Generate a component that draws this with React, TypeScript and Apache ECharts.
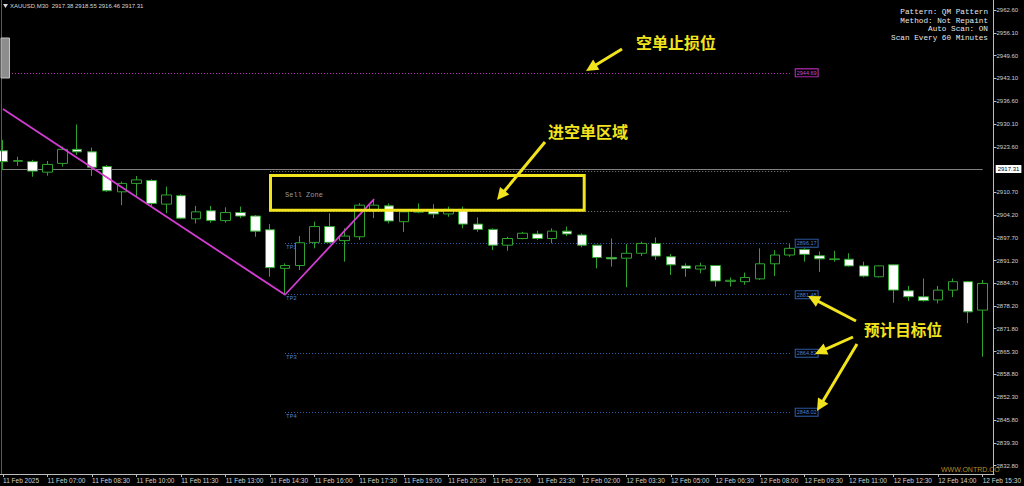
import React, { useEffect, useRef } from "react";
import * as echarts from "echarts";

// ---------- data ----------
const symbolHeader = "XAUUSD,M30  2917.38 2918.55 2916.46 2917.31";
const firstAxisLabel = "11 Feb 2025";

const times: string[] = [
  "11 Feb 05:30", "11 Feb 06:00", "11 Feb 06:30", "11 Feb 07:00", "11 Feb 07:30", "11 Feb 08:00",
  "11 Feb 08:30", "11 Feb 09:00", "11 Feb 09:30", "11 Feb 10:00", "11 Feb 10:30", "11 Feb 11:00",
  "11 Feb 11:30", "11 Feb 12:00", "11 Feb 12:30", "11 Feb 13:00", "11 Feb 13:30", "11 Feb 14:00",
  "11 Feb 14:30", "11 Feb 15:00", "11 Feb 15:30", "11 Feb 16:00", "11 Feb 16:30", "11 Feb 17:00",
  "11 Feb 17:30", "11 Feb 18:00", "11 Feb 18:30", "11 Feb 19:00", "11 Feb 19:30", "11 Feb 20:00",
  "11 Feb 20:30", "11 Feb 21:00", "11 Feb 21:30", "11 Feb 22:00", "11 Feb 22:30", "11 Feb 23:00",
  "11 Feb 23:30",
  "12 Feb 01:00", "12 Feb 01:30", "12 Feb 02:00", "12 Feb 02:30", "12 Feb 03:00", "12 Feb 03:30",
  "12 Feb 04:00", "12 Feb 04:30", "12 Feb 05:00", "12 Feb 05:30", "12 Feb 06:00", "12 Feb 06:30",
  "12 Feb 07:00", "12 Feb 07:30", "12 Feb 08:00", "12 Feb 08:30", "12 Feb 09:00", "12 Feb 09:30",
  "12 Feb 10:00", "12 Feb 10:30", "12 Feb 11:00", "12 Feb 11:30", "12 Feb 12:00", "12 Feb 12:30",
  "12 Feb 13:00", "12 Feb 13:30", "12 Feb 14:00", "12 Feb 14:30", "12 Feb 15:00", "12 Feb 15:30",
];

const opens: number[] = [
  2922.5, 2919.5, 2919.4, 2916.4, 2918.9, 2922.9, 2922.2, 2918.0, 2910.8, 2913.2,
  2914.0, 2907.3, 2909.7, 2903.1, 2905.4, 2902.6, 2904.9, 2903.9, 2900.0, 2889.0,
  2889.8, 2896.4, 2900.9, 2896.9, 2898.0, 2905.4, 2906.8, 2902.3, 2905.0, 2905.4,
  2904.5, 2905.8, 2901.6, 2900.1, 2895.6, 2897.5, 2898.8, 2897.5, 2899.6, 2898.5,
  2895.6, 2892.1, 2891.9, 2893.3, 2896.1, 2892.3, 2889.7, 2888.8, 2889.8, 2885.3,
  2885.2, 2886.0, 2890.3, 2892.8, 2894.4, 2892.6, 2891.5, 2891.6, 2889.7, 2886.6,
  2890.0, 2882.6, 2880.9, 2880.0, 2882.8, 2885.2, 2877.1,
];
const closes: number[] = [
  2919.4, 2919.7, 2916.7, 2918.6, 2922.9, 2922.2, 2917.8, 2911.1, 2913.2, 2914.2,
  2907.5, 2909.9, 2903.3, 2905.1, 2902.6, 2904.9, 2903.9, 2899.6, 2889.2, 2889.8,
  2896.3, 2900.9, 2896.4, 2898.2, 2907.0, 2907.0, 2902.5, 2905.1, 2905.2, 2904.5,
  2905.8, 2901.6, 2900.1, 2895.6, 2897.5, 2899.0, 2897.5, 2899.6, 2898.8, 2895.6,
  2892.1, 2891.7, 2893.3, 2896.1, 2892.5, 2890.0, 2889.0, 2889.7, 2885.4, 2885.6,
  2886.4, 2890.3, 2892.8, 2894.7, 2893.0, 2891.7, 2891.7, 2889.7, 2886.8, 2889.7,
  2882.8, 2880.9, 2879.8, 2882.8, 2885.2, 2876.6, 2884.7,
];
const lows: number[] = [
  2917.0, 2918.2, 2915.1, 2915.4, 2918.0, 2921.3, 2915.3, 2910.8, 2907.0, 2909.4,
  2906.8, 2904.7, 2903.0, 2901.8, 2902.0, 2902.0, 2903.3, 2898.0, 2886.6, 2881.48,
  2888.5, 2894.7, 2896.1, 2890.9, 2897.1, 2903.3, 2901.8, 2899.4, 2904.7, 2903.3,
  2903.7, 2900.4, 2899.4, 2894.2, 2894.0, 2897.3, 2897.1, 2896.1, 2898.2, 2895.0,
  2889.0, 2889.5, 2883.6, 2892.5, 2891.4, 2887.1, 2886.6, 2887.6, 2883.8, 2883.8,
  2884.3, 2885.7, 2886.8, 2892.3, 2890.9, 2888.0, 2890.9, 2889.5, 2886.4, 2886.4,
  2879.2, 2879.7, 2879.5, 2879.0, 2880.8, 2873.4, 2863.8,
];
const highs: number[] = [
  2925.6, 2920.8, 2919.9, 2919.6, 2923.7, 2930.0, 2923.4, 2918.4, 2913.7, 2915.3,
  2914.4, 2912.3, 2910.1, 2906.8, 2906.8, 2906.4, 2906.6, 2904.2, 2901.6, 2890.4,
  2898.2, 2902.3, 2904.7, 2900.4, 2907.6, 2908.5, 2907.5, 2905.8, 2907.5, 2907.3,
  2906.6, 2906.6, 2903.5, 2900.4, 2898.0, 2899.4, 2899.7, 2900.4, 2900.9, 2899.0,
  2895.6, 2897.5, 2895.9, 2896.6, 2897.8, 2893.1, 2890.4, 2890.6, 2889.9, 2886.4,
  2887.8, 2894.7, 2894.2, 2895.9, 2894.7, 2893.8, 2894.0, 2893.3, 2890.9, 2889.8,
  2890.0, 2884.0, 2886.1, 2884.0, 2886.1, 2885.4, 2885.7,
];

// zigzag (QM pattern leg): [bar index, price]
const zigzagIdx: number[] = [0, 19, 25];
const zigzagPrice: number[] = [2934.4, 2881.48, 2908.7];

// levels
const bidPrice = 2917.31;
const stopLoss = 2944.69;
const tpNames: string[] = ["TP1", "TP2", "TP3", "TP4"];
const tpValues: number[] = [2896.17, 2881.48, 2864.82, 2848.02];
const sellZone: number[] = [2916.75, 2905.2];
const levelStart = 19;
const zoneStart = 18;
const levelEnd = 53;

// price axis tick labels
const yTicks: number[] = [
  2962.6, 2956.1, 2949.6, 2943.1, 2936.6, 2930.1, 2923.6, 2910.7, 2904.2, 2897.7,
  2891.2, 2884.7, 2878.2, 2871.8, 2865.3, 2858.8, 2852.3, 2845.8, 2839.3, 2832.8,
];
const yMin = 2830.41;
const yMax = 2965.45;

const infoLines: string[] = ["Pattern: QM Pattern", "Method: Not Repaint", "Auto Scan: ON", "Scan Every 60 Minutes"];
const noteStop = "空单止损位";
const noteZone = "进空单区域";
const noteTarget = "预计目标位";
const watermark = "WWW.ONTRD.CO";

// ---------- styles ----------
const GREEN = "#2ea32e";
const YELLOW = "#f2e41c";
const TPBLUE = "#2f5ea8";
const TPTEXT = "#4a7fd0";
const MAGENTA = "#c030c0";
const AXIS = "#bdbdbd";

function arrow(x1: number, y1: number, x2: number, y2: number) {
  const dx = x2 - x1, dy = y2 - y1;
  const len = Math.hypot(dx, dy);
  const ux = dx / len, uy = dy / len;
  const hl = 12, hw = 6;
  const bx = x2 - ux * hl, by = y2 - uy * hl;
  return [
    { type: "line", shape: { x1, y1, x2: bx + ux * 2, y2: by + uy * 2 }, style: { stroke: YELLOW, lineWidth: 3 }, z: 50 },
    {
      type: "polygon",
      shape: { points: [[x2, y2], [bx - uy * hw, by + ux * hw], [bx + uy * hw, by - ux * hw]] },
      style: { fill: YELLOW },
      z: 50,
    },
  ];
}

function txt(text: string, x: number, y: number, o: any) {
  return {
    type: "text",
    z: 50,
    style: { text, x, y, verticalAlign: "middle", ...o },
  };
}

export default function App() {
  const ref = useRef<HTMLDivElement>(null);

  useEffect(() => {
    if (!ref.current) return;
    const chart = echarts.init(ref.current, undefined, { renderer: "svg" });

    const candleData = opens.map((o, i) => [o, closes[i], lows[i], highs[i]]);
    const zigzagData = zigzagIdx.map((idx, k) => [times[idx], zigzagPrice[k]]);

    const dotted = [1, 2];
    const levelLines: any[] = [];

    // stop loss
    levelLines.push([
      {
        coord: [times[0], stopLoss],
        lineStyle: { color: MAGENTA, type: dotted, width: 1 },
        label: {
          show: true, position: "end", distance: 6, formatter: stopLoss.toFixed(2),
          color: "#cc4acc", fontSize: 5.5, fontFamily: "Liberation Sans",
          borderColor: MAGENTA, borderWidth: 1, padding: [0.5, 1], backgroundColor: "#000",
        },
      },
      { coord: [times[levelEnd], stopLoss] },
    ]);
    // TP levels: tag at end + name at start
    tpValues.forEach((v, k) => {
      levelLines.push([
        {
          coord: [times[levelStart], v],
          lineStyle: { color: TPBLUE, type: dotted, width: 1 },
          label: {
            show: true, position: "end", distance: 6, formatter: v.toFixed(2),
            color: TPTEXT, fontSize: 5.5, fontFamily: "Liberation Sans",
            borderColor: TPBLUE, borderWidth: 1, padding: [0.5, 1], backgroundColor: "#000",
          },
        },
        { coord: [times[levelEnd], v] },
      ]);
      levelLines.push([
        {
          coord: [times[levelStart], v],
          lineStyle: { color: TPBLUE, type: dotted, width: 1 },
          label: {
            show: true, position: "insideStartBottom", distance: 1, formatter: tpNames[k],
            color: TPTEXT, fontSize: 6, fontFamily: "Liberation Mono", align: "left",
          },
        },
        { coord: [times[levelEnd], v] },
      ]);
    });
    // sell zone borders
    sellZone.forEach((v) => {
      levelLines.push([
        { coord: [times[zoneStart], v], lineStyle: { color: "#858585", type: dotted, width: 1 }, label: { show: false } },
        { coord: [times[levelEnd], v] },
      ]);
    });
    // bid line
    levelLines.push({
      yAxis: bidPrice,
      lineStyle: { color: "#808080", type: "solid", width: 1 },
      label: {
        show: true, position: "end", distance: 13, formatter: bidPrice.toFixed(2),
        color: "#000", backgroundColor: "#ffffff", fontSize: 6, fontFamily: "Liberation Sans", padding: [1, 2],
      },
    });

    const graphic: any[] = [
      // bottom axis line across full plot width
      { type: "line", shape: { x1: 0, y1: 474.5, x2: 994.5, y2: 474.5 }, style: { stroke: AXIS, lineWidth: 1 }, z: 40 },
      // left frame & scroll handle
      { type: "line", shape: { x1: 1.5, y1: 0, x2: 1.5, y2: 474 }, style: { stroke: "#5a5a5a", lineWidth: 1 }, z: 40 },
      { type: "rect", shape: { x: 1, y: 38, width: 8.5, height: 40 }, style: { fill: "#8d8d8d", stroke: "#c4c4c4", lineWidth: 1 }, z: 41 },
      // header
      { type: "polygon", shape: { points: [[3, 4], [8, 4], [5.5, 8]] }, style: { fill: "#d8d8d8" }, z: 50 },
      txt(symbolHeader, 10, 6, { fill: "#d6d6d6", fontSize: 6, fontFamily: "Liberation Sans", align: "left" }),
      // info block
      ...infoLines.map((s, k) =>
        txt(s, 988, 11.7 + k * 8.85, { fill: "#e6e6e6", fontSize: 7.7, fontFamily: "Liberation Mono", align: "right" })
      ),
      // yellow sell box
      { type: "rect", shape: { x: 270.5, y: 175.5, width: 313.7, height: 34.7 }, style: { fill: "none", stroke: YELLOW, lineWidth: 3 }, z: 45 },
      // notes
      txt(noteStop, 676, 42, { fill: YELLOW, fontSize: 16, fontWeight: "bold", fontFamily: "Noto Sans CJK SC", align: "center" }),
      txt(noteZone, 588, 131, { fill: YELLOW, fontSize: 16, fontWeight: "bold", fontFamily: "Noto Sans CJK SC", align: "center" }),
      txt(noteTarget, 903, 329, { fill: YELLOW, fontSize: 15.6, fontWeight: "bold", fontFamily: "Noto Sans CJK SC", align: "center" }),
      ...arrow(622, 49, 586, 71),
      ...arrow(545, 142, 497, 200),
      ...arrow(856, 321, 808, 296),
      ...arrow(853, 337, 815, 354),
      ...arrow(857, 344, 817, 411),
      // watermark
      txt(watermark, 941, 469, { fill: "#b48c2c", fontSize: 7, fontFamily: "Liberation Sans", align: "left" }),
    ];

    const option: any = {
      animation: false,
      backgroundColor: "#000000",
      grid: { left: 1.7, right: 40.8, top: 0, bottom: 12, containLabel: false },
      xAxis: {
        type: "category",
        data: times,
        boundaryGap: false,
        axisLine: { show: false },
        axisTick: { show: true, interval: 2, length: 3, lineStyle: { color: AXIS } },
        axisLabel: {
          interval: 2, align: "left", fontSize: 6.5, color: "#d0d0d0", margin: 3,
          fontFamily: "Liberation Sans",
          formatter: (v: string, i: number) => (i === 0 ? firstAxisLabel : v),
        },
        splitLine: { show: false },
      },
      yAxis: {
        type: "value",
        position: "right",
        offset: 10.8,
        min: yMin,
        max: yMax,
        axisLine: { show: true, lineStyle: { color: AXIS, width: 1 } },
        axisTick: { show: true, length: 3, customValues: yTicks, lineStyle: { color: AXIS } },
        axisLabel: {
          customValues: yTicks,
          formatter: (v: number) => v.toFixed(2),
          fontSize: 6, color: "#d0d0d0", margin: 3, fontFamily: "Liberation Sans",
        },
        splitLine: { show: false },
      },
      series: [
        {
          name: "levels",
          type: "line",
          data: [],
          z: 1,
          silent: true,
          markLine: { silent: true, symbol: ["none", "none"], z: 1, data: levelLines, animation: false },
          markArea: {
            silent: true,
            z: 1,
            itemStyle: { color: "rgba(0,0,0,0)" },
            label: {
              show: true, position: "insideLeft", distance: 0, offset: [0, 4],
              color: "#9a9a9a", fontSize: 7, fontFamily: "Liberation Mono",
            },
            data: [[{ coord: [times[levelStart], sellZone[0]], name: "Sell Zone" }, { coord: [times[levelEnd], sellZone[1]] }]],
          },
        },
        {
          name: "XAUUSD",
          type: "candlestick",
          data: candleData,
          z: 3,
          clip: false,
          barWidth: 10,
          itemStyle: {
            color: "#000000",
            color0: "#ffffff",
            borderColor: GREEN,
            borderColor0: GREEN,
            borderWidth: 1,
          },
        },
        {
          name: "zigzag",
          type: "line",
          data: zigzagData,
          z: 4,
          symbol: "none",
          lineStyle: { color: "#d23cd2", width: 1.8 },
        },
      ],
      graphic,
    };

    chart.setOption(option);
    return () => chart.dispose();
  }, []);

  return (
    <div
      ref={ref}
      style={{ position: "absolute", left: 0, top: 0, width: 1024, height: 486, background: "#000" }}
    />
  );
}
